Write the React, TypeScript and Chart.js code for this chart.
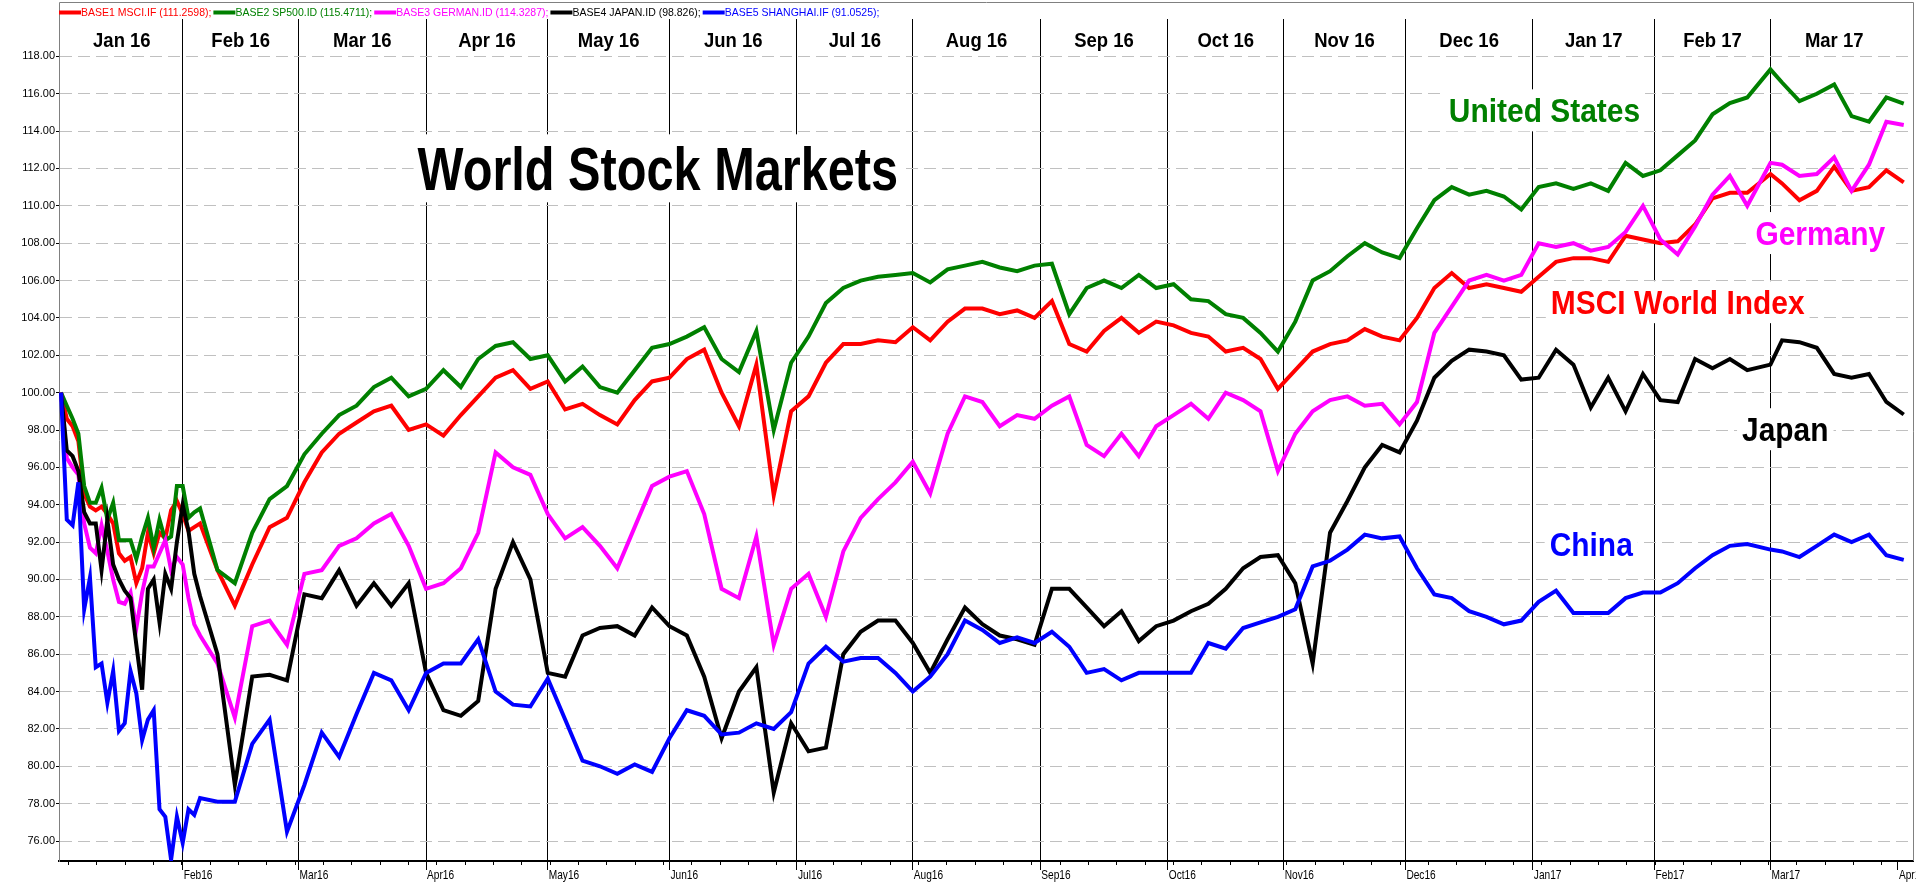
import React, { useEffect, useRef } from "react";
import { Chart, registerables } from "chart.js";

Chart.register(...registerables);

// Trading-day index of each sample (day 0 = base date, value 100)
const DAYS = [
  0, 1, 2, 3, 4, 5, 6, 7, 8, 9,
  10, 11, 12, 13, 14, 15, 16, 17, 18, 19,
  20, 21, 22, 23, 24, 27, 30, 33, 36, 39,
  42, 45, 48, 51, 54, 57, 60, 63, 66, 69,
  72, 75, 78, 81, 84, 87, 90, 93, 96, 99,
  102, 105, 108, 111, 114, 117, 120, 123, 126, 129,
  132, 135, 138, 141, 144, 147, 150, 153, 156, 159,
  162, 165, 168, 171, 174, 177, 180, 183, 186, 189,
  192, 195, 198, 201, 204, 207, 210, 213, 216, 219,
  222, 225, 228, 231, 234, 237, 240, 243, 246, 249,
  252, 255, 258, 261, 264, 267, 270, 273, 276, 279,
  282, 285, 288, 291, 295, 297, 300, 303, 306, 309,
  312, 315, 318,
];

const MSCI = [
  100, 98.6, 98.2, 97.4, 94.6, 93.9, 93.7, 93.9, 93.5, 93.0,
  91.4, 91.0, 91.2, 89.8, 90.6, 92.5, 91.4, 92.5, 92.2, 93.7,
  94.2, 93.5, 92.6, 92.8, 93.0, 90.5, 88.6, 90.8, 92.8, 93.3,
  95.2, 96.8, 97.8, 98.4, 99.0, 99.3, 98.0, 98.3, 97.7, 98.8,
  99.8, 100.8, 101.2, 100.2, 100.6, 99.1, 99.4, 98.8, 98.3, 99.6,
  100.6, 100.8, 101.8, 102.3, 100.0, 98.2, 101.5, 94.5, 99.0, 99.8,
  101.6, 102.6, 102.6, 102.8, 102.7, 103.5, 102.8, 103.8, 104.5, 104.5,
  104.2, 104.4, 104.0, 104.9, 102.6, 102.2, 103.3, 104.0, 103.2, 103.8,
  103.6, 103.2, 103.0, 102.2, 102.4, 101.8, 100.2, 101.2, 102.2, 102.6,
  102.8, 103.4, 103.0, 102.8, 104.0, 105.6, 106.4, 105.6, 105.8, 105.6,
  105.4, 106.2, 107.0, 107.2, 107.2, 107.0, 108.4, 108.2, 108.0, 108.1,
  109.0, 110.4, 110.7, 110.7, 111.7, 111.2, 110.3, 110.8, 112.1, 110.8,
  111.0, 111.9, 111.26,
];

const SP500 = [
  100, 99.3, 98.6, 97.8, 95.0, 94.1, 94.1, 94.9, 93.2, 94.1,
  92.1, 92.1, 92.1, 91.1, 92.3, 93.3, 91.7, 93.2, 92.1, 92.3,
  95.0, 95.0, 93.3, 93.6, 93.8, 90.5, 89.8, 92.5, 94.3, 95.0,
  96.7, 97.8, 98.8, 99.3, 100.3, 100.8, 99.8, 100.2, 101.2, 100.3,
  101.8, 102.5, 102.7, 101.8, 102.0, 100.6, 101.4, 100.3, 100.0, 101.2,
  102.4, 102.6, 103.0, 103.5, 101.8, 101.1, 103.3, 98.0, 101.6, 103.0,
  104.8, 105.6, 106.0, 106.2, 106.3, 106.4, 105.9, 106.6, 106.8, 107.0,
  106.7, 106.5, 106.8, 106.9, 104.2, 105.6, 106.0, 105.6, 106.3, 105.6,
  105.8, 105.0, 104.9, 104.2, 104.0, 103.2, 102.2, 103.8, 106.0, 106.5,
  107.3, 108.0, 107.5, 107.2, 108.8, 110.3, 111.0, 110.6, 110.8, 110.5,
  109.8, 111.0, 111.2, 110.9, 111.2, 110.8, 112.3, 111.6, 111.9, 112.7,
  113.5, 114.9, 115.5, 115.8, 117.3, 116.6, 115.6, 116.0, 116.5, 114.8,
  114.5, 115.8, 115.47,
];

const GERMAN = [
  100, 96.5, 96.0, 95.6, 93.0, 91.7, 91.4, 92.9, 91.5, 90.0,
  88.8, 88.7, 89.3, 87.4, 89.3, 90.7, 90.7, 91.4, 92.1, 90.5,
  91.2, 90.8, 89.0, 87.6, 87.0, 85.5, 82.6, 87.5, 87.8, 86.5,
  90.3, 90.5, 91.8, 92.2, 93.0, 93.5, 91.8, 89.5, 89.8, 90.6,
  92.5, 96.8, 96.0, 95.6, 93.5, 92.2, 92.8, 91.8, 90.6, 92.8,
  95.0, 95.5, 95.8, 93.5, 89.5, 89.0, 92.3, 86.5, 89.5, 90.3,
  88.0, 91.5, 93.3, 94.3, 95.2, 96.3, 94.6, 97.8, 99.8, 99.5,
  98.2, 98.8, 98.6, 99.3, 99.8, 97.2, 96.6, 97.8, 96.6, 98.2,
  98.8, 99.4, 98.6, 100.0, 99.6, 99.0, 95.8, 97.8, 99.0, 99.6,
  99.8, 99.3, 99.4, 98.3, 99.5, 103.2, 104.6, 106.0, 106.3, 106.0,
  106.3, 108.0, 107.8, 108.0, 107.6, 107.8, 108.6, 110.0, 108.2, 107.4,
  108.9, 110.6, 111.6, 110.0, 112.3, 112.2, 111.6, 111.7, 112.6, 110.8,
  112.2, 114.5, 114.33,
];

const JAPAN = [
  100, 96.9, 96.6, 95.8, 93.6, 93.0, 93.0, 90.5, 93.2, 90.8,
  90.0, 89.4, 89.0, 86.5, 84.1, 89.5, 90.0, 87.7, 90.3, 89.5,
  92.0, 94.0, 92.6, 90.3, 89.1, 86.0, 79.0, 84.8, 84.9, 84.6,
  89.2, 89.0, 90.5, 88.6, 89.8, 88.6, 89.8, 85.0, 83.0, 82.7,
  83.5, 89.5, 92.0, 90.0, 85.0, 84.8, 87.0, 87.4, 87.5, 87.0,
  88.5, 87.5, 87.0, 84.8, 81.5, 84.0, 85.3, 78.6, 82.3, 80.8,
  81.0, 86.0, 87.2, 87.8, 87.8, 86.6, 85.0, 86.8, 88.5, 87.6,
  87.0, 86.8, 86.5, 89.5, 89.5, 88.5, 87.5, 88.3, 86.7, 87.5,
  87.8, 88.3, 88.7, 89.5, 90.6, 91.2, 91.3, 89.8, 85.5, 92.5,
  94.2, 96.0, 97.2, 96.8, 98.5, 100.8, 101.7, 102.3, 102.2, 102.0,
  100.7, 100.8, 102.3, 101.5, 99.2, 100.8, 99.0, 101.0, 99.6, 99.5,
  101.8, 101.3, 101.8, 101.2, 101.5, 102.8, 102.7, 102.4, 101.0, 100.8,
  101.0, 99.5, 98.83,
];

const SHANGHAI = [
  100, 93.2, 92.9, 95.2, 88.4, 90.1, 85.3, 85.5, 83.4, 85.1,
  81.9, 82.3, 85.1, 83.9, 81.4, 82.5, 83.0, 77.7, 77.3, 75.0,
  77.3, 75.9, 77.7, 77.4, 78.3, 78.1, 78.1, 81.2, 82.5, 76.5,
  79.0, 81.8, 80.5, 82.8, 85.0, 84.6, 83.0, 85.0, 85.5, 85.5,
  86.8, 84.0, 83.3, 83.2, 84.7, 82.5, 80.3, 80.0, 79.6, 80.1,
  79.7, 81.5, 83.0, 82.7, 81.7, 81.8, 82.3, 82.0, 82.9, 85.5,
  86.4, 85.6, 85.8, 85.8, 85.0, 84.0, 84.8, 86.0, 87.8, 87.3,
  86.6, 86.9, 86.6, 87.2, 86.4, 85.0, 85.2, 84.6, 85.0, 85.0,
  85.0, 85.0, 86.6, 86.3, 87.4, 87.7, 88.0, 88.4, 90.7, 91.0,
  91.6, 92.4, 92.2, 92.3, 90.6, 89.2, 89.0, 88.3, 88.0, 87.6,
  87.8, 88.8, 89.4, 88.2, 88.2, 88.2, 89.0, 89.3, 89.3, 89.8,
  90.6, 91.3, 91.8, 91.9, 91.6, 91.5, 91.2, 91.8, 92.4, 92.0,
  92.4, 91.3, 91.05,
];

const SERIES_NAMES = [
  "BASE1 MSCI.IF (111.2598);",
  "BASE2 SP500.ID (115.4711);",
  "BASE3 GERMAN.ID (114.3287);",
  "BASE4 JAPAN.ID (98.826);",
  "BASE5 SHANGHAI.IF (91.0525);",
];
const SERIES_COLORS = ["#ff0000", "#008000", "#ff00ff", "#000000", "#0000ff"];

const MONTH_STARTS = [21, 41, 63, 84, 105, 127, 147, 169, 191, 211, 232, 254, 275, 295, 317];
const MONTH_TICK_LABELS = [
  "Feb16", "Mar16", "Apr16", "May16", "Jun16", "Jul16", "Aug16", "Sep16",
  "Oct16", "Nov16", "Dec16", "Jan17", "Feb17", "Mar17", "Apr17",
];
const MONTH_HEADERS = [
  "Jan 16", "Feb 16", "Mar 16", "Apr 16", "May 16", "Jun 16", "Jul 16", "Aug 16",
  "Sep 16", "Oct 16", "Nov 16", "Dec 16", "Jan 17", "Feb 17", "Mar 17",
];
const Y_TICKS = [76, 78, 80, 82, 84, 86, 88, 90, 92, 94, 96, 98, 100, 102, 104, 106, 108, 110, 112, 114, 116, 118];

const TITLE_TEXT = "World Stock Markets";
const TITLE_ANCHOR = { day: 103.0, value: 110.83 };
const LABEL_TEXTS = ["United States", "Germany", "MSCI World Index", "Japan", "China"];
const LABEL_COLORS = ["#008000", "#ff00ff", "#ff0000", "#000000", "#0000ff"];
const LABEL_DAYS = [239.5, 292.4, 257.1, 290.1, 256.9];
const LABEL_VALUES = [114.47, 107.9, 104.2, 97.4, 91.25];

const FONT = "'Liberation Sans', Arial, Helvetica, sans-serif";

const drawPlugin = {
  id: "wsmDecor",
  beforeDatasetsDraw(chart: any) {
    const { ctx, scales } = chart;
    const xs = scales.x;
    const ys = scales.y;
    ctx.save();
    // month headers
    const edges = [0, ...MONTH_STARTS];
    ctx.fillStyle = "#000";
    ctx.font = `bold 21px ${FONT}`;
    ctx.textAlign = "center";
    ctx.textBaseline = "alphabetic";
    for (let i = 0; i < MONTH_HEADERS.length; i++) {
      const a = xs.getPixelForValue(edges[i]);
      const b = xs.getPixelForValue(edges[i + 1]);
      const t = MONTH_HEADERS[i];
      const w = ctx.measureText(t).width * 0.88;
      ctx.fillText(t, (a + b) / 2, 46.5, w);
    }
    // title with white box
    ctx.font = `bold 62px ${FONT}`;
    {
      const cx = xs.getPixelForValue(TITLE_ANCHOR.day);
      const by = ys.getPixelForValue(TITLE_ANCHOR.value);
      const w = ctx.measureText(TITLE_TEXT).width * 0.785;
      ctx.fillStyle = "#fff";
      ctx.fillRect(cx - w / 2 - 4, by - 44 - 12, w + 8, 44 + 24);
      ctx.fillStyle = "#000";
      ctx.textAlign = "center";
      ctx.fillText(TITLE_TEXT, cx, by, w);
    }
    // series labels
    ctx.font = `bold 34px ${FONT}`;
    ctx.textAlign = "left";
    for (let i = 0; i < LABEL_TEXTS.length; i++) {
      const lx = xs.getPixelForValue(LABEL_DAYS[i]);
      const by = ys.getPixelForValue(LABEL_VALUES[i]);
      const w = ctx.measureText(LABEL_TEXTS[i]).width * 0.88;
      ctx.fillStyle = "#fff";
      ctx.fillRect(lx - 5, by - 24 - 9, w + 10, 24 + 18);
      ctx.fillStyle = LABEL_COLORS[i];
      ctx.fillText(LABEL_TEXTS[i], lx, by, w);
    }
    ctx.restore();
  },
  afterDraw(chart: any) {
    const { ctx, chartArea, scales } = chart;
    const xs = scales.x;
    ctx.save();
    // frame
    ctx.strokeStyle = "#808080";
    ctx.lineWidth = 1;
    ctx.beginPath();
    ctx.moveTo(chartArea.left + 0.5, chartArea.top);
    ctx.lineTo(chartArea.left + 0.5, 2.5);
    ctx.lineTo(chartArea.right + 0.5, 2.5);
    ctx.lineTo(chartArea.right + 0.5, chartArea.bottom);
    ctx.stroke();
    // weekly minor ticks
    ctx.strokeStyle = "#000";
    ctx.beginPath();
    for (let k = 0; k < 66; k++) {
      const d = 1.2 + k * 4.89;
      if (d > 319) break;
      const px = Math.round(xs.getPixelForValue(d)) + 0.5;
      ctx.moveTo(px, chartArea.bottom);
      ctx.lineTo(px, chartArea.bottom + 4);
    }
    ctx.stroke();
    // bottom month labels
    ctx.fillStyle = "#000";
    ctx.font = `13px ${FONT}`;
    ctx.textAlign = "left";
    ctx.textBaseline = "alphabetic";
    for (let i = 0; i < MONTH_STARTS.length; i++) {
      const px = xs.getPixelForValue(MONTH_STARTS[i]);
      const t = MONTH_TICK_LABELS[i];
      const w = ctx.measureText(t).width * 0.78;
      ctx.fillText(t, px + 1, 879, w);
    }
    // legend row
    let cx = chartArea.left;
    const ly = 12.5;
    ctx.font = `11px ${FONT}`;
    ctx.textBaseline = "middle";
    for (let i = 0; i < SERIES_NAMES.length; i++) {
      ctx.strokeStyle = SERIES_COLORS[i];
      ctx.lineWidth = 4;
      ctx.beginPath();
      ctx.moveTo(cx, ly);
      ctx.lineTo(cx + 22, ly);
      ctx.stroke();
      cx += 22;
      const w = ctx.measureText(SERIES_NAMES[i]).width * 0.955;
      ctx.fillStyle = SERIES_COLORS[i];
      ctx.fillText(SERIES_NAMES[i], cx, ly + 0.5, w);
      cx += w + 2;
    }
    ctx.restore();
  },
};

export default function App() {
  const canvasRef = useRef<HTMLCanvasElement | null>(null);

  useEffect(() => {
    document.body.style.margin = "0";
    document.body.style.overflow = "hidden";
    const canvas = canvasRef.current;
    if (!canvas) return;
    const allSeries = [MSCI, SP500, GERMAN, JAPAN, SHANGHAI];
    const datasets = allSeries.map((vals, i) => ({
      label: SERIES_NAMES[i],
      data: DAYS.map((d, j) => ({ x: d, y: vals[j] })),
      borderColor: SERIES_COLORS[i],
      backgroundColor: SERIES_COLORS[i],
      borderWidth: 4,
      pointRadius: 0,
      tension: 0,
      fill: false,
      order: 5 - i,
    }));
    const chart = new Chart(canvas, {
      type: "line",
      data: { datasets },
      options: {
        animation: false,
        responsive: false,
        devicePixelRatio: 1,
        events: [],
        parsing: false as any,
        layout: { padding: { top: 19, right: 3, left: 0, bottom: 0 } },
        plugins: { legend: { display: false }, tooltip: { enabled: false } },
        scales: {
          x: {
            type: "linear",
            min: -0.345,
            max: 319.6,
            afterBuildTicks: (s: any) => {
              s.ticks = MONTH_STARTS.map((v) => ({ value: v }));
            },
            afterFit: (s: any) => {
              s.height = 24;
            },
            ticks: { display: false },
            grid: {
              color: (c: any) => (c.tick && c.tick.value > 316 ? "rgba(0,0,0,0)" : "#000"),
              lineWidth: 1,
              tickColor: "#000",
              tickLength: 9,
              drawOnChartArea: true,
            },
            border: { color: "#000", width: 2 },
          },
          y: {
            type: "linear",
            min: 74.93,
            max: 120,
            afterBuildTicks: (s: any) => {
              s.ticks = Y_TICKS.map((v) => ({ value: v }));
            },
            afterFit: (s: any) => {
              s.width = 59;
            },
            ticks: {
              color: "#000",
              font: { family: FONT, size: 11 },
              padding: 1,
              callback: (v: any) => Number(v).toFixed(2),
            },
            grid: {
              color: "#c0c0c0",
              lineWidth: 1,
              tickColor: "#000",
              tickLength: 3,
              tickBorderDash: [],
            },
            border: { color: "#808080", width: 1, dash: [12, 6] },
          },
        },
      } as any,
      plugins: [drawPlugin],
    });
    return () => chart.destroy();
  }, []);

  return (
    <div style={{ width: 1916, height: 885, background: "#fff" }}>
      <canvas ref={canvasRef} width={1916} height={885} style={{ display: "block" }} />
    </div>
  );
}
